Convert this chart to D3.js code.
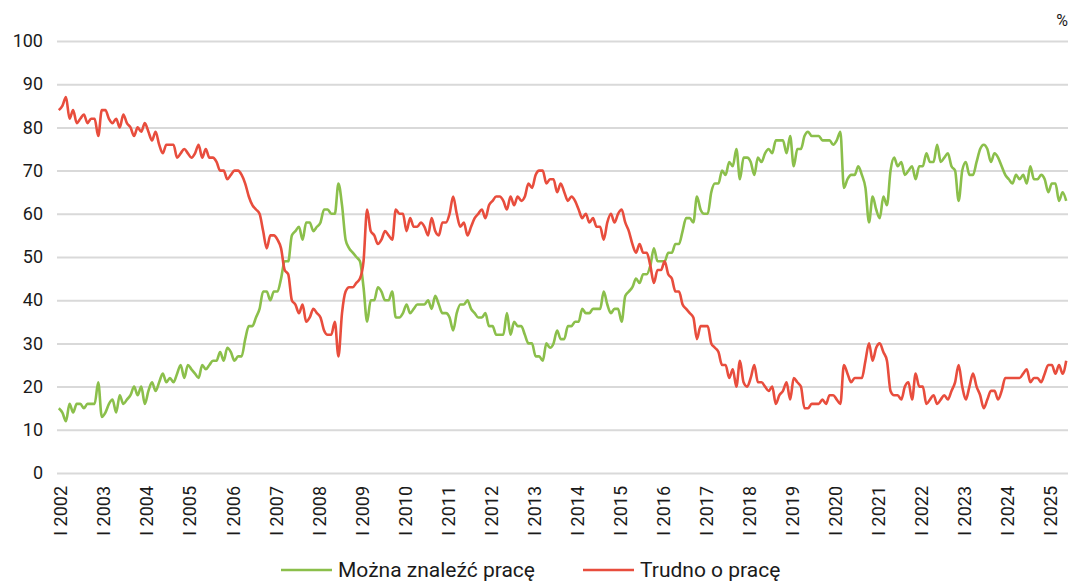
<!DOCTYPE html>
<html>
<head>
<meta charset="utf-8">
<script src="https://cdn.jsdelivr.net/npm/d3@7"></script>
<style>
  body { margin: 0; background: #fff; }
  svg text { font-family: Roboto, "Noto Sans", sans-serif; fill: #1a1a1a; }
</style>
</head>
<body>
<div id="chart"></div>
<script>
// wartości miesięczne, I 2002 – VI 2025 (w %)
const firstYear = 2002;
const romanMonths = ['I','II','III','IV','V','VI','VII','VIII','IX','X','XI','XII'];

const moznaZnalezc = [
  15,14,12,16,14,16,16,15,16,16,16,21, // 2002
  13,14,16,17,14,18,16,17,18,20,18,20, // 2003
  16,19,21,19,21,23,21,22,21,23,25,22, // 2004
  25,24,23,22,25,24,25,26,26,28,26,29, // 2005
  28,26,27,27,31,34,34,36,38,42,42,40, // 2006
  42,42,45,49,49,55,56,57,54,58,58,56, // 2007
  57,58,61,61,60,60,67,62,54,52,51,50, // 2008
  49,43,35,40,40,43,42,40,40,42,36,36, // 2009
  37,39,37,38,39,39,39,40,38,41,39,37, // 2010
  37,36,33,37,39,39,40,38,37,36,36,37, // 2011
  34,34,32,32,32,37,32,35,34,34,32,30, // 2012
  30,27,27,26,30,29,30,33,31,31,34,34, // 2013
  35,35,38,37,37,38,38,38,42,39,37,38, // 2014
  38,35,41,42,43,45,44,46,46,48,52,49, // 2015
  49,49,51,51,53,53,56,59,59,58,64,61, // 2016
  60,60,65,67,67,70,69,72,71,75,68,73, // 2017
  73,72,69,73,72,74,75,74,77,77,77,74, // 2018
  78,71,75,75,78,79,78,78,78,77,77,77, // 2019
  76,77,79,66,68,69,69,71,69,66,58,64, // 2020
  61,59,64,62,70,73,71,72,69,70,71,68, // 2021
  71,71,74,72,72,76,72,73,74,71,70,63, // 2022
  70,72,69,69,72,75,76,75,72,74,73,71, // 2023
  69,68,67,69,68,69,67,71,68,68,69,68, // 2024
  65,67,67,63,65,63                    // 2025
];

const trudnoOPrace = [
  84,85,87,82,84,81,82,83,81,82,82,78, // 2002
  84,84,82,81,82,80,83,81,80,78,80,79, // 2003
  81,79,77,79,76,74,76,76,76,73,74,75, // 2004
  74,73,74,76,73,75,73,73,72,70,70,68, // 2005
  69,70,70,69,67,64,62,61,60,56,52,55, // 2006
  55,54,52,47,46,40,39,37,39,35,36,38, // 2007
  37,36,33,32,32,35,27,37,42,43,43,44, // 2008
  45,49,61,56,55,53,54,56,55,54,61,60, // 2009
  60,56,59,57,57,58,57,55,59,56,55,58, // 2010
  58,60,64,60,57,58,55,57,59,60,61,59, // 2011
  62,63,64,64,63,61,64,62,64,63,64,67, // 2012
  66,69,70,70,67,68,68,65,67,65,63,64, // 2013
  63,61,59,60,58,59,57,57,54,58,60,58, // 2014
  60,61,58,56,53,51,53,51,51,48,44,47, // 2015
  47,49,46,45,42,42,39,38,37,36,31,34, // 2016
  34,34,30,29,28,25,25,22,24,20,26,21, // 2017
  20,22,25,21,21,20,19,20,16,18,19,21, // 2018
  17,22,21,20,15,15,16,16,16,17,16,18, // 2019
  18,17,16,25,23,21,22,22,22,26,30,26, // 2020
  29,30,28,26,19,18,18,17,20,21,17,23, // 2021
  20,20,16,17,18,16,17,18,17,19,21,25, // 2022
  20,17,20,23,20,18,15,17,19,19,17,19, // 2023
  22,22,22,22,22,23,24,21,22,22,21,23, // 2024
  25,25,23,25,23,26                    // 2025
];

const seriesNames = ['Można znaleźć pracę', 'Trudno o pracę'];
const seriesColors = ['#8bbf4b', '#e84d3d'];
const yTicks = [0, 10, 20, 30, 40, 50, 60, 70, 80, 90, 100];

const categories = moznaZnalezc.map((_, i) =>
  romanMonths[i % 12] + ' ' + (firstYear + Math.floor(i / 12)));

const width = 1071, height = 581;
const margin = { top: 41, right: 3, bottom: 108, left: 57 };

const svg = d3.select('#chart').append('svg')
  .attr('width', width)
  .attr('height', height);

const x = d3.scaleBand()
  .domain(categories)
  .range([margin.left, width - margin.right])
  .padding(0);

const y = d3.scaleLinear()
  .domain([0, 100])
  .range([height - margin.bottom, margin.top]);

// siatka + oś Y
const yAxis = svg.append('g')
  .attr('transform', `translate(${margin.left},0)`)
  .call(d3.axisLeft(y)
    .tickValues(yTicks)
    .tickSize(-(width - margin.left - margin.right))
    .tickPadding(14));
yAxis.select('.domain').remove();
yAxis.selectAll('.tick line')
  .attr('stroke', '#d9d9d9')
  .attr('stroke-width', 2);
yAxis.selectAll('.tick text')
  .attr('font-size', '18px');

// oś X – tylko styczeń każdego roku
const xAxis = svg.append('g')
  .attr('transform', `translate(0,${height - margin.bottom})`)
  .call(d3.axisBottom(x)
    .tickValues(categories.filter((d, i) => i % 12 === 0))
    .tickSize(0));
xAxis.select('.domain').remove();
xAxis.selectAll('.tick text')
  .attr('font-size', '18px')
  .attr('text-anchor', 'end')
  .attr('transform', 'rotate(-90)')
  .attr('x', -13)
  .attr('y', 0)
  .attr('dy', '0.48em');

// jednostka
svg.append('text')
  .attr('x', width - 3)
  .attr('y', 26)
  .attr('text-anchor', 'end')
  .attr('font-size', '16px')
  .text('%');

// linie
const line = d3.line()
  .x((d, i) => x(categories[i]) + x.bandwidth() / 2)
  .y(d => y(d))
  .curve(d3.curveMonotoneX);

[moznaZnalezc, trudnoOPrace].forEach((values, k) => {
  svg.append('path')
    .datum(values)
    .attr('fill', 'none')
    .attr('stroke', seriesColors[k])
    .attr('stroke-width', 2.6)
    .attr('stroke-linejoin', 'round')
    .attr('d', line);
});

// legenda
const legendItems = [
  { name: seriesNames[0], color: seriesColors[0], x: 281 },
  { name: seriesNames[1], color: seriesColors[1], x: 583 }
];
const legend = svg.append('g').attr('transform', 'translate(0,570)');
legend.selectAll('line')
  .data(legendItems)
  .enter()
  .append('line')
  .attr('x1', d => d.x)
  .attr('x2', d => d.x + 51)
  .attr('stroke', d => d.color)
  .attr('stroke-width', 2.6);
legend.selectAll('text')
  .data(legendItems)
  .enter()
  .append('text')
  .attr('x', d => d.x + 57)
  .attr('dy', '0.35em')
  .attr('font-size', '21px')
  .text(d => d.name);
</script>
</body>
</html>
